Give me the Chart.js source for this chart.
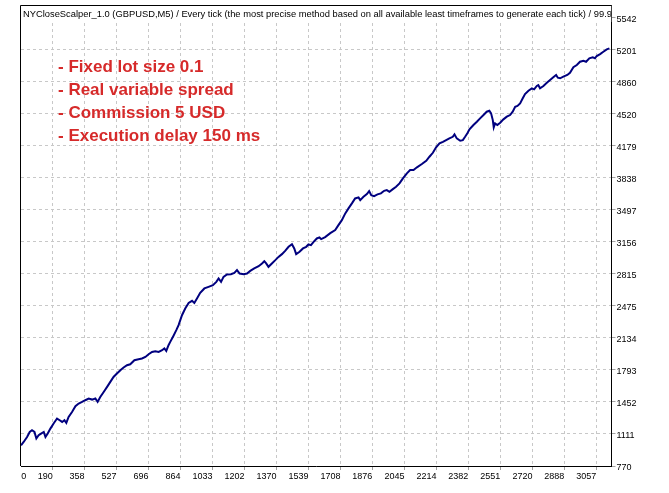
<!DOCTYPE html>
<html lang="en">
<head>
    <meta charset="UTF-8">
    <title>NYCloseScalper balance</title>
    <script src="https://cdn.jsdelivr.net/npm/chart.js"></script>
    <style>
        html, body { margin: 0; padding: 0; background: #fff; }
        #wrap { width: 669px; height: 493px; position: relative; }
    </style>
</head>
<body>
    <div id="wrap"><canvas id="balanceChart"></canvas></div>
    <script>
        // trade number / account balance
        const trades = [23,37,55,69,81,94,104,116,129,143,
            152,164,178,195,213,227,240,252,262,274,
            292,310,327,345,362,380,398,415,427,441,
            459,477,494,511,529,547,564,582,599,621,
            643,661,679,696,714,731,749,767,779,789,
            801,810,826,842,854,872,889,907,925,937,
            951,968,990,1012,1035,1053,1065,1078,1091,1109,
            1130,1148,1162,1176,1197,1215,1232,1253,1276,1294,
            1306,1316,1328,1346,1364,1381,1399,1416,1434,1452,
            1464,1474,1492,1510,1527,1539,1552,1566,1583,1597,
            1606,1627,1654,1680,1697,1715,1733,1750,1768,1785,
            1803,1812,1829,1847,1859,1870,1885,1903,1921,1938,
            1952,1966,1984,2001,2019,2037,2058,2075,2093,2111,
            2137,2160,2177,2195,2212,2230,2248,2265,2282,2300,
            2309,2321,2339,2353,2365,2377,2388,2409,2427,2444,
            2462,2479,2493,2502,2511,2516,2523,2535,2550,2567,
            2585,2602,2616,2629,2641,2655,2669,2681,2699,2717,
            2729,2743,2751,2760,2778,2796,2813,2830,2845,2854,
            2866,2883,2904,2918,2936,2954,2971,2989,3003,3020,
            3038,3050,3059,3077,3094,3112,3126];
        const balance = [990,1026,1079,1132,1150,1132,1062,1097,1115,1132,
            1079,1115,1168,1222,1275,1257,1239,1257,1228,1292,
            1345,1406,1435,1452,1470,1488,1477,1488,1452,1505,
            1558,1612,1665,1718,1754,1789,1818,1843,1853,1896,
            1907,1914,1931,1960,1984,1992,1984,2002,2021,1995,
            2056,2091,2152,2216,2269,2375,2447,2506,2528,2506,
            2553,2613,2660,2677,2695,2730,2766,2730,2783,2809,
            2812,2826,2855,2819,2812,2819,2847,2873,2897,2926,
            2950,2926,2890,2926,2961,2996,3025,3060,3103,3131,
            3086,3025,3050,3086,3103,3128,3121,3156,3192,3203,
            3185,3206,3249,3281,3334,3387,3459,3512,3565,3618,
            3629,3600,3635,3664,3696,3653,3643,3661,3672,3699,
            3707,3689,3717,3742,3778,3831,3885,3920,3920,3949,
            3984,4019,4062,4104,4162,4204,4221,4239,4257,4274,
            4300,4257,4232,4239,4274,4311,4353,4399,4434,4470,
            4506,4541,4551,4524,4452,4375,4417,4399,4424,4460,
            4488,4506,4541,4594,4602,4630,4684,4729,4765,4790,
            4779,4815,4825,4790,4815,4850,4878,4907,4932,4903,
            4897,4914,4932,4956,5014,5038,5073,5084,5073,5110,
            5120,5110,5134,5155,5180,5205,5216];

        const xTickLabels = ['0','190','358','527','696','864','1033','1202','1370','1539',
            '1708','1876','2045','2214','2382','2551','2720','2888','3057'];
        const yTickLabels = ['770','1111','1452','1793','2134','2475','2815','3156','3497',
            '3838','4179','4520','4860','5201','5542'];

        const titleText = 'NYCloseScalper_1.0 (GBPUSD,M5) / Every tick (the most precise method based on all available least timeframes to generate each tick) / 99.90%';
        const notes = ['- Fixed lot size 0.1', '- Real variable spread', '- Commission 5 USD', '- Execution delay 150 ms'];

        const labelFont = { family: 'Liberation Sans', size: 9 };
        const gridColor = '#c8c8c8';

        // frame, report title and the red notes inside the plot
        const reportText = {
            id: 'reportText',
            beforeDatasetsDraw(chart) {
                const { ctx, chartArea: a } = chart;
                ctx.save();
                ctx.beginPath();
                ctx.rect(a.left, a.top, a.right - a.left, a.bottom - a.top);
                ctx.clip();
                ctx.fillStyle = '#fff';
                ctx.fillRect(a.left, a.top, a.right - a.left, 17);
                ctx.fillStyle = '#000';
                ctx.font = '9.35px "Liberation Sans"';
                ctx.textBaseline = 'middle';
                ctx.fillText(titleText, a.left + 2, a.top + 9);

                ctx.fillStyle = '#d62a2a';
                ctx.font = 'bold 17px "Liberation Sans"';
                ctx.textBaseline = 'alphabetic';
                notes.forEach((t, i) => ctx.fillText(t, 58, 72 + i * 23));
                ctx.restore();
            },
            afterDraw(chart) {
                // left and top edges; bottom and right come from the axes
                const { ctx, chartArea: a } = chart;
                const l = Math.round(a.left) - 0.5, t = Math.round(a.top) + 0.5;
                ctx.save();
                ctx.strokeStyle = '#000';
                ctx.lineWidth = 1;
                ctx.beginPath();
                ctx.moveTo(l, a.bottom);
                ctx.lineTo(l, t);
                ctx.lineTo(a.right, t);
                ctx.stroke();
                ctx.restore();
            }
        };

        const ctx = document.getElementById('balanceChart').getContext('2d');
        const balanceChart = new Chart(ctx, {
            type: 'line',
            data: {
                datasets: [{
                    data: trades.map((t, i) => ({ x: t, y: balance[i] })),
                    borderColor: '#00007f',
                    borderWidth: 2,
                    pointRadius: 0,
                    tension: 0,
                    fill: false
                }]
            },
            options: {
                responsive: true,
                maintainAspectRatio: false,
                animation: false,
                layout: { padding: { left: 21, top: 5, right: 0, bottom: 0 } },
                plugins: { legend: { display: false }, tooltip: { enabled: false } },
                scales: {
                    x: {
                        type: 'linear',
                        min: 23,
                        max: 3137,
                        afterBuildTicks: s => {
                            // first label sits just inside the left edge
                            s.ticks = xTickLabels.map((l, i) => ({ value: i === 0 ? 51 : Number(l) }));
                        },
                        afterFit: s => {
                            s.height = 27;
                            s.paddingLeft = 0;
                            s.paddingRight = 0;
                        },
                        ticks: {
                            autoSkip: false,
                            maxRotation: 0,
                            align: 'end',
                            padding: 1,
                            color: '#000',
                            font: labelFont,
                            callback: (v, i) => xTickLabels[i]
                        },
                        grid: {
                            color: c => c.index === 0 ? 'rgba(0,0,0,0)' : gridColor,
                            tickColor: c => c.index === 0 ? 'rgba(0,0,0,0)' : '#a0a0a0',
                            tickLength: 4
                        },
                        border: { color: '#000', width: 1, dash: [3, 3] }
                    },
                    y: {
                        position: 'right',
                        min: 770,
                        max: 5677,
                        afterBuildTicks: s => {
                            s.ticks = yTickLabels.map(l => ({ value: Number(l) }));
                        },
                        afterFit: s => {
                            s.width = 57.5;
                            s.paddingTop = 0;
                            s.paddingBottom = 0;
                        },
                        ticks: {
                            autoSkip: false,
                            padding: 1,
                            labelOffset: 1.5,
                            color: '#000',
                            font: labelFont,
                            callback: (v, i) => yTickLabels[i]
                        },
                        grid: {
                            color: gridColor,
                            tickColor: '#a0a0a0',
                            tickLength: 4
                        },
                        border: { color: '#000', width: 1, dash: [3, 3] }
                    }
                }
            },
            plugins: [reportText]
        });
    </script>
</body>
</html>
